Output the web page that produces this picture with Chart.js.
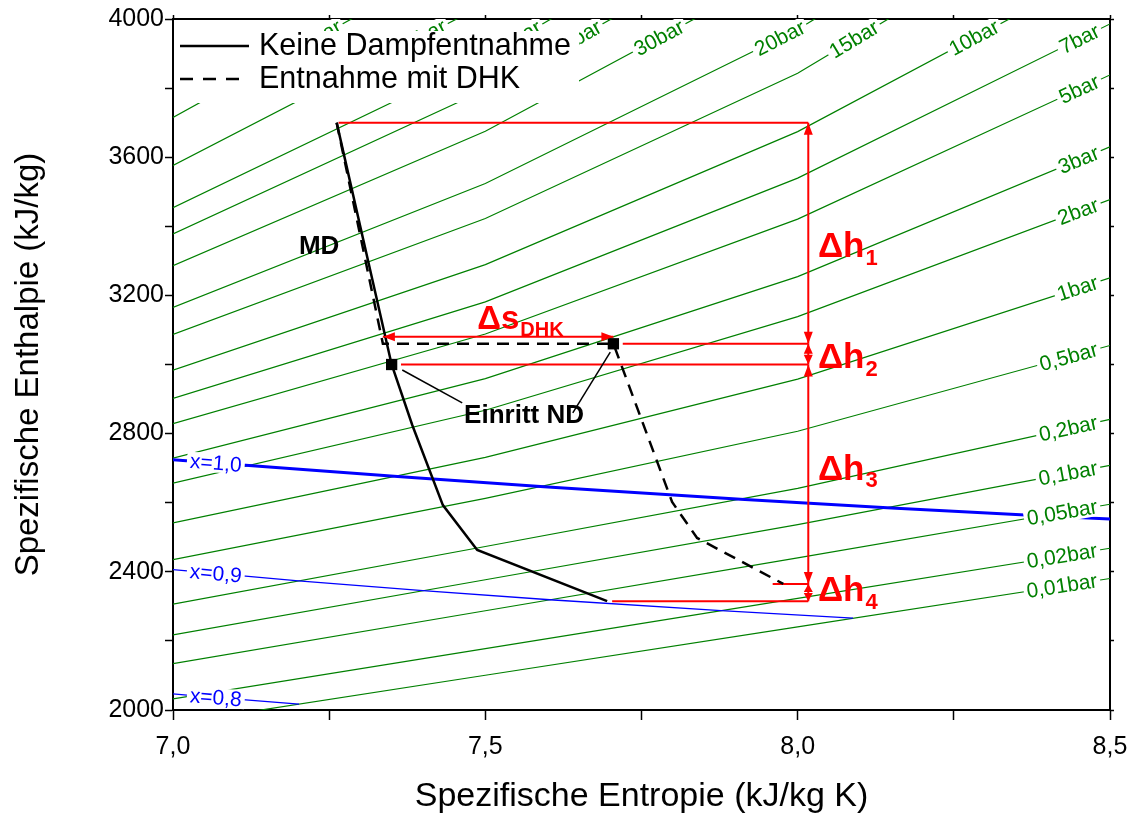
<!DOCTYPE html>
<html>
<head>
<meta charset="utf-8">
<script src="https://cdn.jsdelivr.net/npm/chart.js@4.4.1/dist/chart.umd.min.js"></script>
<style>
  html, body { margin: 0; padding: 0; background: #fff; }
  #wrap { width: 1135px; height: 816px; }
</style>
</head>
<body>
<div id="wrap"><canvas id="mollier"></canvas></div>
<script>
// Stützstellen der Isobaren, Entropie in kJ/kg K
const entropyGrid = [7.0, 7.5, 8.0, 8.5];
// Isobaren in bar
const pressures = [0.01, 0.02, 0.05, 0.1, 0.2, 0.5, 1, 2, 3, 5, 7, 10, 15, 20, 30, 40, 50, 70, 100];
// Enthalpie in kJ/kg je Isobare bei s = 7,0 / 7,5 / 8,0 / 8,5
const isobarEnthalpy = [
  [1960.5, 2100.6, 2240.6, 2380.7],
  [2032.2, 2177.5, 2322.9, 2468.2],
  [2134.2, 2287.2, 2440.2, 2595.6],
  [2217.5, 2376.9, 2536.4, 2708.2],
  [2306.6, 2473.2, 2641.7, 2841.4],
  [2435.1, 2612.4, 2806.9, 3055.1],
  [2541.4, 2731.4, 2957.7, 3251.1],
  [2656.4, 2867.5, 3138.6, 3477.5],
  [2728.7, 2959.3, 3254.5, 3629.8],
  [2828.8, 3088.2, 3420.8, 3838.1],
  [2901.6, 3181.4, 3539.4, 3985.7],
  [2983.9, 3289.1, 3674.1, 4155.0],
  [3086.8, 3422.7, 3843.1, 4384.0],
  [3165.3, 3523.7, 3969.8, 4522.0],
  [3285.8, 3675.3, 4160.7, 4700.0],
  [3377.9, 3795.4, 4303.0, 4850.0],
  [3453.6, 3888.8, 4418.0, 4980.0],
  [3575.9, 4042.9, 4586.0, 5150.0],
  [3714.9, 4214.0, 4780.0, 5370.0]
];

// Linien konstanter Dampfnässe
const qualityLabels = ["x=1,0", "x=0,9", "x=0,8"];
const qualityEntropy = [
  [6.9919, 7.1271, 7.3594, 7.5939, 7.9085, 8.1502, 8.3951, 8.7237],
  [6.7537, 6.9436, 7.2009, 7.4001, 7.6032, 7.8773, 8.0886],
  [6.6500, 6.8114, 7.0310, 7.2017]
];
const qualityEnthalpy = [
  [2725.3, 2706.7, 2675.5, 2645.9, 2609.7, 2584.7, 2561.5, 2533.5],
  [2449.7, 2415.4, 2373.9, 2345.3, 2319.1, 2287.5, 2265.7],
  [2106.1, 2076.8, 2041.5, 2017.2]
];

// Expansion ohne Dampfentnahme
const noExtractS = [7.262, 7.350, 7.383, 7.432, 7.487, 7.695];
const noExtractH = [3700, 3000, 2825, 2593, 2463, 2315];
// Expansion mit Entnahme (DHK)
const dhkS = [7.262, 7.336, 7.705, 7.799, 7.839, 7.977];
const dhkH = [3700, 3060, 3060, 2602, 2498, 2365];
// Eintritt ND (beide Fälle)
const inletS = [7.350, 7.705];
const inletH = [3000, 3060];

// Bezugslinien für die Enthalpiedifferenzen
const refLevelsH = [3700, 3060, 3000, 2365, 2315];
const refLevelsStartS = [7.265, 7.720, 7.365, 7.960, 7.703];
const deltaAxisS = 8.017;
// Pfeil Delta s DHK
const dsArrowS = [7.336, 7.705];
const dsArrowH = 3080;

const FONT = "'Liberation Sans', Arial, sans-serif";
const GREEN = "#008000", BLUE = "#0000ff", RED = "#ff0000", BLACK = "#000000";

Chart.defaults.font.family = FONT;
Chart.defaults.color = BLACK;

const toPts = (xs, ys) => xs.map((x, i) => ({ x: x, y: ys[i] }));
const barText = p => String(p).replace(".", ",") + "bar";

const datasets = [];
pressures.forEach((p, i) => {
  datasets.push({
    kind: "isobar", lineLabel: barText(p), labelColor: GREEN,
    data: toPts(entropyGrid, isobarEnthalpy[i]),
    showLine: true, borderColor: GREEN, borderWidth: 1.2, pointRadius: 0, order: 50
  });
});
qualityLabels.forEach((lab, i) => {
  datasets.push({
    kind: "quality", lineLabel: lab, labelColor: BLUE,
    data: toPts(qualityEntropy[i], qualityEnthalpy[i]),
    showLine: true, borderColor: BLUE, borderWidth: i === 0 ? 3 : 1.3, pointRadius: 0, order: 40
  });
});
refLevelsH.forEach((h, i) => {
  datasets.push({
    kind: "ref", data: [{ x: refLevelsStartS[i], y: h }, { x: deltaAxisS, y: h }],
    showLine: true, borderColor: RED, borderWidth: 2, pointRadius: 0, order: 30
  });
});
for (let i = 0; i < refLevelsH.length - 1; i++) {
  datasets.push({
    kind: "arrow", data: [{ x: deltaAxisS, y: refLevelsH[i] }, { x: deltaAxisS, y: refLevelsH[i + 1] }],
    showLine: true, borderColor: RED, borderWidth: 2, pointRadius: 0, order: 30
  });
}
datasets.push({
  kind: "arrow", data: [{ x: dsArrowS[0], y: dsArrowH }, { x: dsArrowS[1], y: dsArrowH }],
  showLine: true, borderColor: RED, borderWidth: 2, pointRadius: 0, order: 30
});
datasets.push({
  kind: "process", legend: true, label: "Keine Dampfentnahme",
  data: toPts(noExtractS, noExtractH),
  showLine: true, borderColor: BLACK, borderWidth: 2.5, pointRadius: 0, order: 20
});
datasets.push({
  kind: "process", legend: true, label: "Entnahme mit DHK",
  data: toPts(dhkS, dhkH), borderDash: [12, 8],
  showLine: true, borderColor: BLACK, borderWidth: 2.5, pointRadius: 0, order: 20
});
// Hinweislinien zu "Einritt ND"
datasets.push({
  kind: "leader", data: [{ x: 7.367, y: 2984 }, { x: 7.463, y: 2889 }],
  showLine: true, borderColor: BLACK, borderWidth: 1.5, pointRadius: 0, order: 20
});
datasets.push({
  kind: "leader", data: [{ x: 7.700, y: 3036 }, { x: 7.640, y: 2860 }],
  showLine: true, borderColor: BLACK, borderWidth: 1.5, pointRadius: 0, order: 20
});
datasets.push({
  kind: "marker", data: toPts(inletS, inletH), showLine: false,
  pointStyle: "rect", pointRadius: 8, pointBackgroundColor: BLACK, pointBorderWidth: 0, order: 5
});

// Beschriftungen im Diagramm
const notes = [
  { text: "MD", s: 7.234, h: 3340, size: 26, color: BLACK, align: "center" },
  { text: "Einritt ND", s: 7.562, h: 2851, size: 26, color: BLACK, align: "center" },
  { text: "\u0394s", sub: "DHK", s: 7.487, h: 3129, size: 33, subSize: 20, color: RED, align: "left" },
  { text: "\u0394h", sub: "1", s: 8.0325, h: 3340, size: 35, subSize: 22, color: RED, align: "left" },
  { text: "\u0394h", sub: "2", s: 8.0325, h: 3019, size: 35, subSize: 22, color: RED, align: "left" },
  { text: "\u0394h", sub: "3", s: 8.0325, h: 2695, size: 35, subSize: 22, color: RED, align: "left" },
  { text: "\u0394h", sub: "4", s: 8.0325, h: 2342, size: 35, subSize: 22, color: RED, align: "left" }
];

const LINE_LABEL_SIZE = 21;

function pixels(chart, idx) {
  return chart.getDatasetMeta(idx).data.map(p => ({ x: p.x, y: p.y }));
}
function lengths(pts) {
  const L = [0];
  for (let i = 1; i < pts.length; i++) {
    L.push(L[i - 1] + Math.hypot(pts[i].x - pts[i - 1].x, pts[i].y - pts[i - 1].y));
  }
  return L;
}
function pointAt(pts, L, d) {
  for (let i = 1; i < pts.length; i++) {
    if (d <= L[i] || i === pts.length - 1) {
      const t = (d - L[i - 1]) / ((L[i] - L[i - 1]) || 1);
      return { x: pts[i - 1].x + t * (pts[i].x - pts[i - 1].x), y: pts[i - 1].y + t * (pts[i].y - pts[i - 1].y) };
    }
  }
  return pts[0];
}
function cutAtExit(pts, a) {
  const out = [pts[0]];
  for (let i = 1; i < pts.length; i++) {
    const p = pts[i - 1], q = pts[i];
    let t = 1;
    if (q.y < a.top && p.y >= a.top) t = Math.min(t, (a.top - p.y) / (q.y - p.y));
    if (q.x > a.right && p.x <= a.right) t = Math.min(t, (a.right - p.x) / (q.x - p.x));
    if (t < 1) { out.push({ x: p.x + t * (q.x - p.x), y: p.y + t * (q.y - p.y) }); return out; }
    out.push(q);
  }
  return out;
}
function cutAtEntry(pts, a) {
  for (let i = 1; i < pts.length; i++) {
    const p = pts[i - 1], q = pts[i];
    if (p.x < a.left && q.x >= a.left) {
      const t = (a.left - p.x) / (q.x - p.x);
      return [{ x: a.left, y: p.y + t * (q.y - p.y) }].concat(pts.slice(i));
    }
  }
  return pts;
}
function labelAlong(ctx, pts, L, dStart, text, color, size) {
  const gap = 3;
  ctx.font = size + "px " + FONT;
  const w = ctx.measureText(text).width;
  const S = pointAt(pts, L, dStart);
  const E = pointAt(pts, L, dStart + w + 2 * gap);
  const C = pointAt(pts, L, dStart + gap + w / 2);
  const ang = Math.atan2(E.y - S.y, E.x - S.x);
  ctx.save();
  ctx.translate(C.x, C.y);
  ctx.rotate(ang);
  ctx.fillStyle = "#fff";
  ctx.fillRect(-w / 2 - gap, -size * 0.45, w + 2 * gap, size * 0.9);
  ctx.fillStyle = color;
  ctx.textAlign = "center";
  ctx.textBaseline = "middle";
  ctx.fillText(text, 0, 1);
  ctx.restore();
}
function drawLineLabels(chart) {
  const ctx = chart.ctx, a = chart.chartArea;
  ctx.save();
  ctx.beginPath();
  ctx.rect(a.left, a.top, a.right - a.left, a.bottom - a.top);
  ctx.clip();
  chart.data.datasets.forEach((ds, i) => {
    if (ds.kind === "isobar") {
      const pts = cutAtExit(pixels(chart, i), a);
      const L = lengths(pts);
      ctx.font = LINE_LABEL_SIZE + "px " + FONT;
      const w = ctx.measureText(ds.lineLabel).width;
      labelAlong(ctx, pts, L, L[L.length - 1] - 10 - w - 6, ds.lineLabel, ds.labelColor, LINE_LABEL_SIZE);
    } else if (ds.kind === "quality") {
      const pts = cutAtEntry(pixels(chart, i), a);
      const L = lengths(pts);
      labelAlong(ctx, pts, L, 14, ds.lineLabel, ds.labelColor, LINE_LABEL_SIZE);
    }
  });
  ctx.restore();
}
function arrowHead(ctx, tip, from, len, half) {
  const ang = Math.atan2(tip.y - from.y, tip.x - from.x);
  ctx.save();
  ctx.translate(tip.x, tip.y);
  ctx.rotate(ang);
  ctx.beginPath();
  ctx.moveTo(0, 0);
  ctx.lineTo(-len, -half);
  ctx.lineTo(-len, half);
  ctx.closePath();
  ctx.fill();
  ctx.restore();
}
function drawArrows(chart) {
  const ctx = chart.ctx;
  ctx.save();
  ctx.fillStyle = RED;
  chart.data.datasets.forEach((ds, i) => {
    if (ds.kind !== "arrow") return;
    const pts = pixels(chart, i);
    const p0 = pts[0], p1 = pts[pts.length - 1];
    const d = Math.hypot(p1.x - p0.x, p1.y - p0.y);
    const len = Math.min(12, d / 2 - 0.5);
    arrowHead(ctx, p0, p1, len, 4.5);
    arrowHead(ctx, p1, p0, len, 4.5);
  });
  ctx.restore();
}
function drawNotes(chart) {
  const ctx = chart.ctx, xs = chart.scales.x, ys = chart.scales.y;
  ctx.save();
  notes.forEach(n => {
    const x = xs.getPixelForValue(n.s), y = ys.getPixelForValue(n.h);
    ctx.font = "bold " + n.size + "px " + FONT;
    ctx.fillStyle = n.color;
    ctx.textBaseline = "middle";
    ctx.textAlign = n.align;
    ctx.fillText(n.text, x, y);
    if (n.sub) {
      const w = ctx.measureText(n.text).width;
      ctx.font = "bold " + n.subSize + "px " + FONT;
      ctx.textAlign = "left";
      ctx.fillText(n.sub, x + w + 1, y + n.size * 0.33);
    }
  });
  ctx.restore();
}
function drawLegendBox(chart) {
  const ctx = chart.ctx, a = chart.chartArea;
  const items = chart.data.datasets.filter(ds => ds.legend);
  ctx.save();
  ctx.fillStyle = "#fff";
  ctx.fillRect(a.left + 1, a.top + 12, 405, 72);
  items.forEach((ds, k) => {
    const y = a.top + 27 + k * 33;
    ctx.strokeStyle = ds.borderColor;
    ctx.lineWidth = 2.5;
    ctx.setLineDash(ds.borderDash ? [13, 10] : []);
    ctx.beginPath();
    ctx.moveTo(a.left + 7, y);
    ctx.lineTo(a.left + 76, y);
    ctx.stroke();
    ctx.setLineDash([]);
    ctx.fillStyle = BLACK;
    ctx.font = "30.5px " + FONT;
    ctx.textAlign = "left";
    ctx.textBaseline = "middle";
    ctx.fillText(ds.label, a.left + 86, y + 1);
  });
  ctx.restore();
}

const mollierDeco = {
  id: "mollierDeco",
  beforeDatasetsDraw(chart) { chart.$labelsDone = false; },
  beforeDatasetDraw(chart, args) {
    const ds = chart.data.datasets[args.index];
    if (!chart.$labelsDone && ds.kind !== "isobar" && ds.kind !== "quality") {
      drawLineLabels(chart);
      chart.$labelsDone = true;
    }
  },
  afterDatasetsDraw(chart) {
    if (!chart.$labelsDone) drawLineLabels(chart);
    drawArrows(chart);
    drawNotes(chart);
    drawLegendBox(chart);
  }
};

const axisGrid = { drawOnChartArea: false, color: BLACK, tickColor: BLACK, tickWidth: 1.5, tickLength: 8 };
const axisBorder = { color: BLACK, width: 2 };

const canvas = document.getElementById("mollier");
const mollierChart = new Chart(canvas, {
  type: "scatter",
  data: { datasets: datasets },
  plugins: [mollierDeco],
  options: {
    responsive: true,
    maintainAspectRatio: false,
    animation: false,
    devicePixelRatio: 1,
    layout: { padding: 0 },
    plugins: { legend: { display: false }, tooltip: { enabled: false } },
    scales: {
      x: {
        type: "linear", position: "bottom", min: 7, max: 8.5,
        ticks: {
          stepSize: 0.25, autoSkip: false, maxRotation: 0, padding: 12,
          font: { size: 25 }, color: BLACK,
          callback: v => (Math.round(v * 100) % 50 === 0 ? v.toFixed(1).replace(".", ",") : "")
        },
        grid: Object.assign({}, axisGrid, { tickLength: 10 }),
        border: axisBorder,
        title: { display: true, text: "Spezifische Entropie (kJ/kg K)", font: { size: 34, lineHeight: 1.15 }, color: BLACK, padding: 0 },
        afterFit: s => { s.height = 106; s.paddingLeft = 0; s.paddingRight = 0; }
      },
      y: {
        type: "linear", position: "left", min: 2000, max: 4000,
        ticks: {
          stepSize: 200, autoSkip: false, padding: 1,
          font: { size: 25 }, color: BLACK,
          callback: v => (v % 400 === 0 ? String(v) : "")
        },
        grid: axisGrid,
        border: axisBorder,
        title: { display: true, text: "Spezifische Enthalpie (kJ/kg)", font: { size: 33, lineHeight: 1.15 }, color: BLACK, padding: { top: 10, bottom: 0 } },
        afterFit: s => { s.width = 173; s.paddingTop = 0; s.paddingBottom = 0; }
      },
      x2: {
        type: "linear", position: "top", min: 7, max: 8.5,
        ticks: { stepSize: 0.25, display: false },
        grid: Object.assign({}, axisGrid, { tickLength: 4 }),
        border: axisBorder,
        afterFit: s => { s.height = 19; s.paddingLeft = 0; s.paddingRight = 0; }
      },
      y2: {
        type: "linear", position: "right", min: 2000, max: 4000,
        ticks: { stepSize: 200, display: false },
        grid: Object.assign({}, axisGrid, { tickLength: 4 }),
        border: axisBorder,
        afterFit: s => { s.width = 25; s.paddingTop = 0; s.paddingBottom = 0; }
      }
    }
  }
});
</script>
</body>
</html>
